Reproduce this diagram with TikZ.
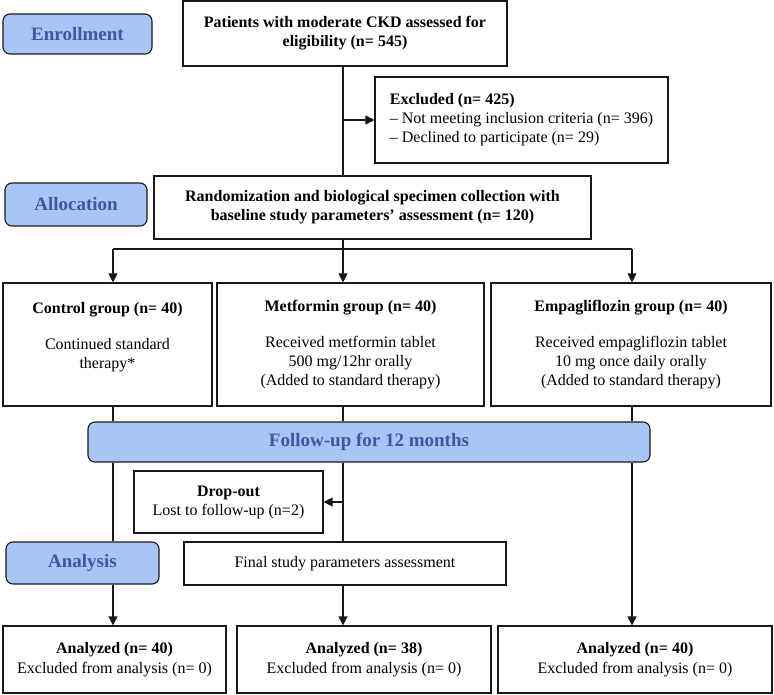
\documentclass[tikz,border=0pt]{standalone}
\usepackage{fontspec}
\setmainfont{Liberation Serif}
\usetikzlibrary{arrows.meta}

\definecolor{stagefill}{RGB}{169,197,246}
\definecolor{stagetext}{RGB}{59,89,160}

\tikzset{
    box/.style={draw=black!90, line width=1.1pt, align=center, inner sep=0pt,
        font=\fontsize{16}{19}\selectfont},
    stage/.style={draw=black!90, line width=1.1pt, rounded corners=7pt, fill=stagefill,
        text=stagetext, inner sep=0pt, font=\fontsize{19}{22}\selectfont\bfseries},
    flow/.style={draw=black!90, line width=1.1pt},
    arr/.style={flow, -{Triangle[width=9pt,length=9pt]}}
}

\begin{document}
\begin{tikzpicture}[x=1pt,y=-1pt]
        \useasboundingbox (0,0) rectangle (774,695);

        \coordinate (la) at (113,249);
        \coordinate (lb) at (343,249);
        \coordinate (lc) at (632,249);

        \node[stage, minimum width=149pt, minimum height=40pt] (enroll) at (77.5,34) {Enrollment};
        \node[stage, minimum width=142pt, minimum height=43pt] (alloc) at (76,204.5) {Allocation};
        \node[stage, minimum width=562pt, minimum height=40pt] (follow) at (369,442) {Follow-up for 12 months};
        \node[stage, minimum width=153pt, minimum height=42pt] (analysis) at (82.5,563) {Analysis};

        \node[box, minimum width=324pt, minimum height=65pt] (screen) at (345,33.5)
            {\textbf{Patients with moderate CKD assessed for}\\ \textbf{eligibility (n= 545)}};
        \node[box, align=left, minimum width=293pt, minimum height=86pt] (excl) at (521.5,120)
            {\textbf{Excluded (n= 425)}\\ \textendash{} Not meeting inclusion criteria (n= 396)\\ \textendash{} Declined to participate (n= 29)};
        \node[box, minimum width=437pt, minimum height=63pt] (rand) at (372.5,207.5)
            {\textbf{Randomization and biological specimen collection with}\\ \textbf{baseline study parameters' assessment (n= 120)}};

        \node[box, minimum width=209pt, minimum height=123pt] (ctrl) at (107.5,344.5)
            {\textbf{Control group (n= 40)}\\[17pt] Continued standard\\ therapy*\\ \mbox{}};
        \node[box, minimum width=267pt, minimum height=123pt] (metf) at (350.5,344.5)
            {\textbf{Metformin group (n= 40)}\\[17pt] Received metformin tablet\\ 500 mg/12hr orally\\ (Added to standard therapy)};
        \node[box, minimum width=280pt, minimum height=123pt] (empa) at (631,344.5)
            {\textbf{Empagliflozin group (n= 40)}\\[17pt] Received empagliflozin tablet\\ 10 mg once daily orally\\ (Added to standard therapy)};

        \node[box, minimum width=189pt, minimum height=62pt] (drop) at (228.5,502)
            {\textbf{Drop-out}\\ Lost to follow-up (n=2)};
        \node[box, minimum width=322pt, minimum height=43pt] (final) at (345,563.5)
            {Final study parameters assessment};

        \node[box, minimum width=223pt, minimum height=67pt] (resa) at (114.5,659.5)
            {\textbf{Analyzed (n= 40)}\\[1pt] Excluded from analysis (n= 0)};
        \node[box, minimum width=254pt, minimum height=67pt] (resb) at (364,659.5)
            {\textbf{Analyzed (n= 38)}\\[1pt] Excluded from analysis (n= 0)};
        \node[box, minimum width=274pt, minimum height=67pt] (resc) at (635,659.5)
            {\textbf{Analyzed (n= 40)}\\[1pt] Excluded from analysis (n= 0)};

        \draw[flow] (screen.south -| lb) -- (rand.north -| lb);
        \draw[arr] (lb |- excl.west) -- (excl.west);
        \draw[flow] (rand.south -| lb) -- (lb);
        \draw[flow] (la) -- (lc);
        \foreach \l/\g in {la/ctrl,lb/metf,lc/empa}
        {
            \draw[arr] (\l) -- (\l |- \g.north);
            \draw[flow] (\g.south -| \l) -- (follow.north -| \l);
        }

        \draw[flow] (follow.south -| la) -- (analysis.north -| la);
        \draw[arr] (analysis.south -| la) -- (resa.north -| la);
        \draw[flow] (follow.south -| lb) -- (final.north -| lb);
        \draw[arr] (lb |- drop.east) -- (drop.east);
        \draw[arr] (final.south -| lb) -- (resb.north -| lb);
        \draw[arr] (follow.south -| lc) -- (resc.north -| lc);
    \end{tikzpicture}
\end{document}
